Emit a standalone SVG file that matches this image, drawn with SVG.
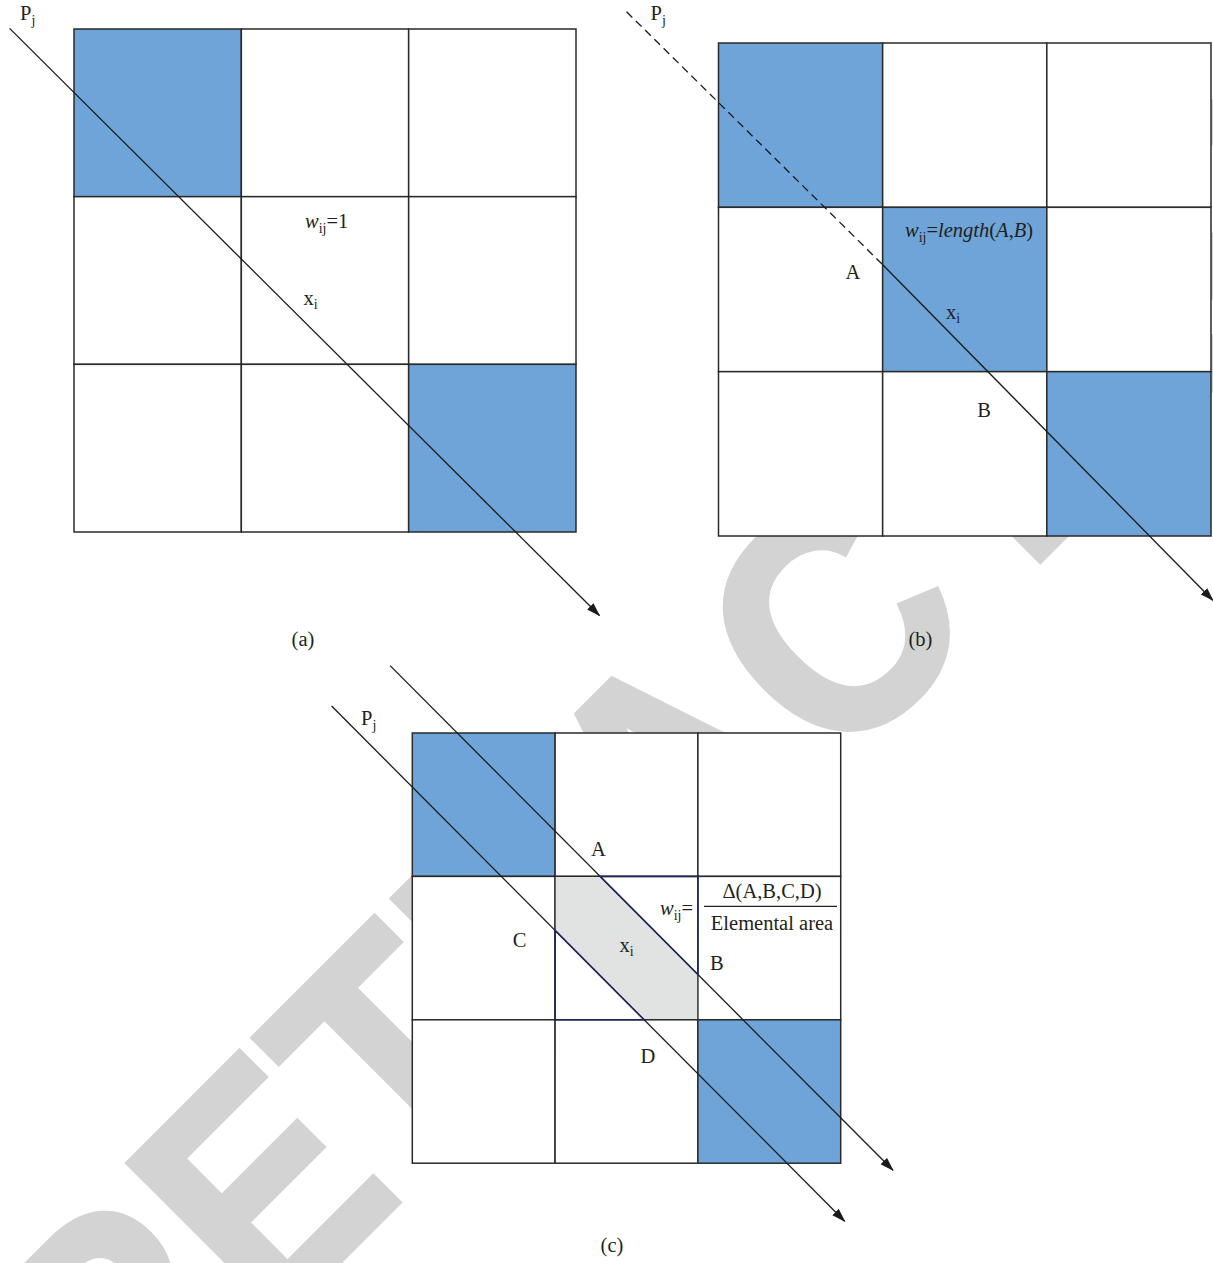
<svg xmlns="http://www.w3.org/2000/svg" width="1213" height="1263" viewBox="0 0 1213 1263">
<defs>
<style>
.cell{fill:#ffffff;stroke:#2a2a2a;stroke-width:1.5}
.blue{fill:#6ea4d7}
.lbl{font-family:"Liberation Serif","Times New Roman",serif;font-size:20.5px;fill:#231f20}
.it{font-style:italic}
.sub{font-size:14px}
.ray{stroke:#1a1a1a;stroke-width:1.3;fill:none}
.dash{stroke-dasharray:8 5}
.navy{fill:none;stroke:#1a2860;stroke-width:1.5}
.wm{font-family:"Liberation Sans",Arial,sans-serif;font-weight:bold;font-size:318px;fill:#d3d3d3;stroke:#d3d3d3;stroke-width:6;stroke-linejoin:miter}
</style>
<marker id="ah" viewBox="0 0 14 10" markerWidth="14" markerHeight="10" refX="13" refY="5" orient="auto" markerUnits="userSpaceOnUse">
<path d="M0,0.5 L14,5 L0,9.5 z" fill="#1a1a1a"/>
</marker>
</defs>
<rect x="0" y="0" width="1213" height="1263" fill="#ffffff"/>

<g id="watermark">
<text class="wm" transform="rotate(-45) scale(0.915,1)" text-anchor="middle" y="1132"><tspan x="-935.5" y="1132">R</tspan><tspan x="-714.8" y="1132">E</tspan><tspan x="-512.6" y="1132">T</tspan><tspan x="-297.3" y="1132">R</tspan><tspan x="-78.7" y="1132">A</tspan><tspan x="162" y="1139">C</tspan><tspan x="393.4" y="1132">T</tspan><tspan x="596.7" y="1132">E</tspan><tspan x="802" y="1132">D</tspan></text>
</g>

<g id="panel-a">
<rect class="cell blue" x="74" y="29" width="167.33" height="167.67"/>
<rect class="cell" x="241.33" y="29" width="167.33" height="167.67"/>
<rect class="cell" x="408.67" y="29" width="167.33" height="167.67"/>
<rect class="cell" x="74" y="196.67" width="167.33" height="167.67"/>
<rect class="cell" x="241.33" y="196.67" width="167.33" height="167.67"/>
<rect class="cell" x="408.67" y="196.67" width="167.33" height="167.67"/>
<rect class="cell" x="74" y="364.33" width="167.33" height="167.67"/>
<rect class="cell" x="241.33" y="364.33" width="167.33" height="167.67"/>
<rect class="cell blue" x="408.67" y="364.33" width="167.33" height="167.67"/>
</g>

<g id="panel-b">
<rect class="cell blue" x="718.5" y="43" width="164.17" height="164.33"/>
<rect class="cell" x="882.67" y="43" width="164.17" height="164.33"/>
<rect class="cell" x="1046.83" y="43" width="164.17" height="164.33"/>
<rect class="cell" x="718.5" y="207.33" width="164.17" height="164.33"/>
<rect class="cell blue" x="882.67" y="207.33" width="164.17" height="164.33"/>
<rect class="cell" x="1046.83" y="207.33" width="164.17" height="164.33"/>
<rect class="cell" x="718.5" y="371.67" width="164.17" height="164.33"/>
<rect class="cell" x="882.67" y="371.67" width="164.17" height="164.33"/>
<rect class="cell blue" x="1046.83" y="371.67" width="164.17" height="164.33"/>
</g>

<g id="panel-c">
<rect class="cell blue" x="412.3" y="733" width="142.8" height="143.4"/>
<rect class="cell" x="555.1" y="733" width="142.8" height="143.4"/>
<rect class="cell" x="697.9" y="733" width="142.8" height="143.4"/>
<rect class="cell" x="412.3" y="876.4" width="142.8" height="143.4"/>
<rect class="cell" x="555.1" y="876.4" width="142.8" height="143.4"/>
<rect class="cell" x="697.9" y="876.4" width="142.8" height="143.4"/>
<rect class="cell" x="412.3" y="1019.8" width="142.8" height="143.4"/>
<rect class="cell" x="555.1" y="1019.8" width="142.8" height="143.4"/>
<rect class="cell blue" x="697.9" y="1019.8" width="142.8" height="143.4"/>
<polygon points="555.8,877.1 600.1,877.1 697.2,974.5 697.2,1019.1 644.1,1019.1 555.8,930.4" fill="#e1e2e2"/>
</g>

<g id="connectors">
<line class="ray" x1="9.6" y1="28.4" x2="599.5" y2="615.5" marker-end="url(#ah)"/>
<line class="ray dash" x1="626.6" y1="11.8" x2="882.5" y2="264.5"/>
<line class="ray" x1="882.5" y1="264.5" x2="1213" y2="600.5" marker-end="url(#ah)"/>
<line class="ray" x1="390.1" y1="665.6" x2="893" y2="1170.3" marker-end="url(#ah)"/>
<line class="ray" x1="331.6" y1="706" x2="844.7" y2="1221.2" marker-end="url(#ah)"/>
</g>

<g id="panel-c-overlay">
<polygon class="navy" points="600.1,876.4 697.9,876.4 697.9,974.5"/>
<polygon class="navy" points="555.1,930.4 555.1,1019.8 644.1,1019.8"/>
<line x1="704" y1="906.3" x2="837" y2="906.3" stroke="#231f20" stroke-width="1.2"/>
</g>

<g id="labels">
<text class="lbl" x="20" y="20">P<tspan class="sub" dy="5">j</tspan></text>
<text class="lbl" x="305" y="228"><tspan class="it">w</tspan><tspan class="sub" dy="5">ij</tspan><tspan dy="-5">=1</tspan></text>
<text class="lbl" x="303.5" y="305">x<tspan class="sub" dy="4">i</tspan></text>
<text class="lbl" x="303" y="646" text-anchor="middle">(a)</text>

<text class="lbl" x="650.5" y="20">P<tspan class="sub" dy="5">j</tspan></text>
<text class="lbl" x="905" y="237"><tspan class="it">w</tspan><tspan class="sub" dy="5">ij</tspan><tspan dy="-5">=</tspan><tspan class="it">length</tspan>(<tspan class="it">A</tspan>,<tspan class="it">B</tspan>)</text>
<text class="lbl" x="853" y="279" text-anchor="middle">A</text>
<text class="lbl" x="946" y="318.5">x<tspan class="sub" dy="4">i</tspan></text>
<text class="lbl" x="984" y="416.5" text-anchor="middle">B</text>
<text class="lbl" x="920.5" y="646" text-anchor="middle">(b)</text>

<text class="lbl" x="361" y="724.5">P<tspan class="sub" dy="5">j</tspan></text>
<text class="lbl" x="598.5" y="855.5" text-anchor="middle">A</text>
<text class="lbl" x="519.5" y="947" text-anchor="middle">C</text>
<text class="lbl" x="619.5" y="952">x<tspan class="sub" dy="4">i</tspan></text>
<text class="lbl" x="710" y="970">B</text>
<text class="lbl" x="648" y="1063" text-anchor="middle">D</text>
<text class="lbl" x="660" y="915"><tspan class="it">w</tspan><tspan class="sub" dy="5">ij</tspan><tspan dy="-5">=</tspan></text>
<text class="lbl" x="772" y="897.5" text-anchor="middle">Δ(A,B,C,D)</text>
<text class="lbl" x="772" y="929.5" text-anchor="middle">Elemental area</text>
<text class="lbl" x="612" y="1252" text-anchor="middle">(c)</text>
</g>
</svg>
